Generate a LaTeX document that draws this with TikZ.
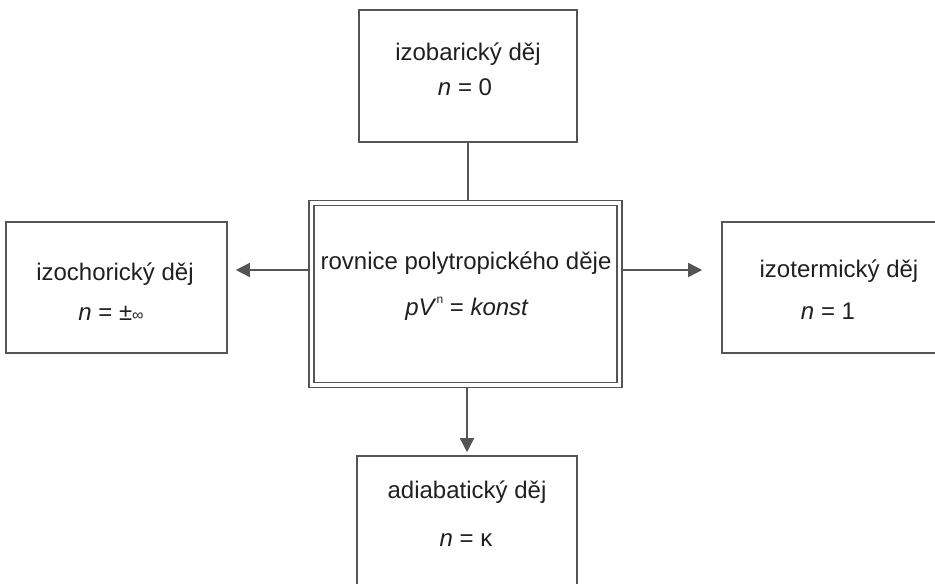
\documentclass[tikz,border=0pt]{standalone}
\usepackage{fontspec}
\setmainfont{Liberation Sans}
\usetikzlibrary{arrows.meta}
\definecolor{ln}{RGB}{85,85,85}
\definecolor{tx}{RGB}{35,31,32}
\begin{document}
\begin{tikzpicture}[x=0.5pt,y=-0.5pt,
  box/.style={draw=ln,line width=0.8pt,fill=white,rectangle,inner sep=0pt},
  dbox/.style={draw=ln,line width=0.75pt,double=white,double distance=1.75pt,rectangle,inner sep=0pt},
  lbl/.style={anchor=base,inner sep=0pt,text=tx,font=\fontsize{12}{14}\selectfont},
  arr/.style={draw=ln,line width=0.8pt,-{Triangle[length=7pt,width=7pt]}},
  con/.style={draw=ln,line width=0.8pt}]
\useasboundingbox (0,0) rectangle (935,583);
\clip (0,0) rectangle (935,583);
% boxes
\node[box,minimum width=109pt,minimum height=66pt] (top) at (468,76) {};
\node[dbox,minimum width=154pt,minimum height=91pt] (center) at (465.5,294) {};
\node[box,minimum width=110.5pt,minimum height=65.5pt] (left) at (116.5,287.5) {};
\node[box,minimum width=110.5pt,minimum height=65.5pt] (right) at (832.5,287.5) {};
\node[box,minimum width=110pt,minimum height=65.5pt] (bottom) at (467,521.5) {};
% connector points on the outer line of the double box
\coordinate (cN) at ([yshift=1pt]center.north);
\coordinate (cS) at ([yshift=-1pt]center.south);
\coordinate (cW) at (309,270);
\coordinate (cE) at (622,270);
% connectors
\draw[con] (top.south) -- (top.south |- cN);
\draw[arr,shorten >=1.5pt] (bottom.north |- cS) -- (bottom.north);
\draw[arr,shorten >=4pt] (cW) -- (cW -| left.east);
\draw[arr,shorten >=9.5pt] (cE) -- (cE -| right.west);
% texts
\node[lbl] (t1) at (468,61) {izobarický děj};
\node[lbl] (t2) at (465,96) {\textit{n} = 0};
\node[lbl] (c1) at (466,269) {rovnice polytropického děje};
\node[lbl] (c2) at (467,315) {\textit{pV}\raisebox{0.5em}{\fontsize{6}{7}\selectfont n} = \textit{konst}};
\node[lbl] (l1) at (115,280) {izochorický děj};
\node[lbl] (l2) at (111,320) {\textit{n} = ±{\fontsize{8}{9}\selectfont ∞}};
\node[lbl] (r1) at (839,277) {izotermický děj};
\node[lbl] (r2) at (828,319) {\textit{n} = 1};
\node[lbl] (b1) at (467,498) {adiabatický děj};
\node[lbl] (b2) at (466,546) {\textit{n} = κ};
\end{tikzpicture}
\end{document}
